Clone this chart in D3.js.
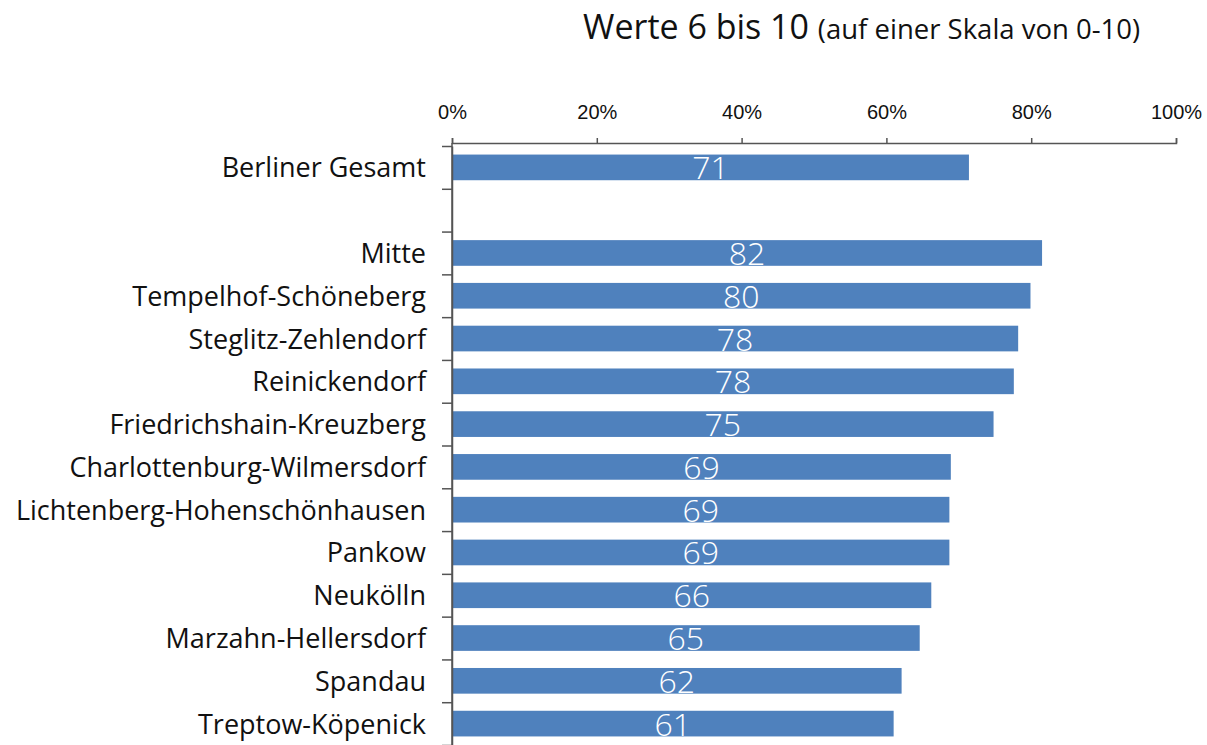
<!DOCTYPE html>
<html>
<head>
<meta charset="utf-8">
<script src="https://cdn.jsdelivr.net/npm/d3@7"></script>
<style>
  body { margin: 0; background: #fff; }
  svg text { font-family: "Open Sans", sans-serif; }
  .axis path, .axis line { stroke: #555; stroke-width: 1.5; }
  .axis text { font-family: "Liberation Sans", Arial, sans-serif; }
</style>
</head>
<body>
<svg id="view" width="1207" height="745"></svg>
<script>
// categories top to bottom, '' = empty slot
const districts = [
    'Berliner Gesamt',
    '',
    'Mitte',
    'Tempelhof-Schöneberg',
    'Steglitz-Zehlendorf',
    'Reinickendorf',
    'Friedrichshain-Kreuzberg',
    'Charlottenburg-Wilmersdorf',
    'Lichtenberg-Hohenschönhausen',
    'Pankow',
    'Neukölln',
    'Marzahn-Hellersdorf',
    'Spandau',
    'Treptow-Köpenick'
];

// share with values 6 to 10 (percent)
const shares = [71.4, null, 81.5, 79.9, 78.2, 77.6, 74.8, 68.9, 68.7, 68.7, 66.2, 64.6, 62.1, 61.0];
const shareLabels = ['71', '', '82', '80', '78', '78', '75', '69', '69', '69', '66', '65', '62', '61'];

const xTicks = [0, 20, 40, 60, 80, 100];

function draw() {
    const svg = d3.select('svg#view');
    const left = 452, right = 1176, top = 146, bottom = 745;

    var x = d3.scaleLinear().domain([0, 100]).range([left, right]);
    var y = d3.scaleBand()
        .domain(d3.range(districts.length))
        .range([top, bottom])
        .paddingInner(0.4)
        .paddingOuter(0.2);
    var yEdge = d3.scaleLinear().domain([0, districts.length]).range([top, bottom]);

    // title
    var title = svg.append('text')
        .attr('x', 583)
        .attr('y', 39)
        .attr('fill', '#111');
    title.append('tspan').attr('font-size', 34).text('Werte 6 bis 10 ');
    title.append('tspan').attr('font-size', 27.5).text('(auf einer Skala von 0-10)');

    // bars
    var rows = districts.map(function(d, i) {
        return { name: d, val: shares[i], lab: shareLabels[i], i: i };
    });

    svg.append('g')
        .selectAll('rect')
        .data(rows.filter(function(r) { return r.val !== null; }))
        .enter()
        .append('rect')
        .attr('x', x(0))
        .attr('y', function(r) { return y(r.i); })
        .attr('width', function(r) { return x(r.val) - x(0); })
        .attr('height', y.bandwidth())
        .attr('fill', '#4f81bd');

    // value labels, white
    svg.append('g')
        .selectAll('text')
        .data(rows.filter(function(r) { return r.val !== null; }))
        .enter()
        .append('text')
        .attr('x', function(r) { return (x(0) + x(r.val)) / 2; })
        .attr('y', function(r) { return y(r.i) + y.bandwidth() / 2 + 12; })
        .attr('text-anchor', 'middle')
        .attr('font-size', 32)
        .attr('font-weight', 300)
        .attr('fill', '#fff')
        .text(function(r) { return r.lab; });

    // x axis on top
    svg.append('g')
        .attr('class', 'axis')
        .attr('transform', 'translate(0,143)')
        .call(d3.axisTop(x)
            .tickValues(xTicks)
            .tickSize(5)
            .tickSizeOuter(5)
            .tickFormat(function(d) { return d + '%'; }))
        .call(function(g) {
            g.selectAll('text')
                .attr('font-size', 20)
                .attr('fill', '#111')
                .attr('y', -24);
        });

    // y axis with ticks between categories
    svg.append('g')
        .attr('class', 'axis')
        .attr('transform', 'translate(' + left + ',0)')
        .call(d3.axisLeft(yEdge)
            .tickValues(d3.range(districts.length + 1))
            .tickSize(10)
            .tickSizeOuter(0)
            .tickFormat(''));
    svg.append('line')
        .attr('x1', left).attr('x2', left)
        .attr('y1', 143).attr('y2', bottom)
        .attr('stroke', '#555').attr('stroke-width', 1.5);

    // category names
    svg.append('g')
        .selectAll('text')
        .data(rows.filter(function(r) { return r.name !== ''; }))
        .enter()
        .append('text')
        .attr('x', 426)
        .attr('y', function(r) { return y(r.i) + y.bandwidth() / 2 + 10; })
        .attr('text-anchor', 'end')
        .attr('font-size', 27)
        .attr('fill', '#111')
        .text(function(r) { return r.name; });
}

draw();
</script>
</body>
</html>
